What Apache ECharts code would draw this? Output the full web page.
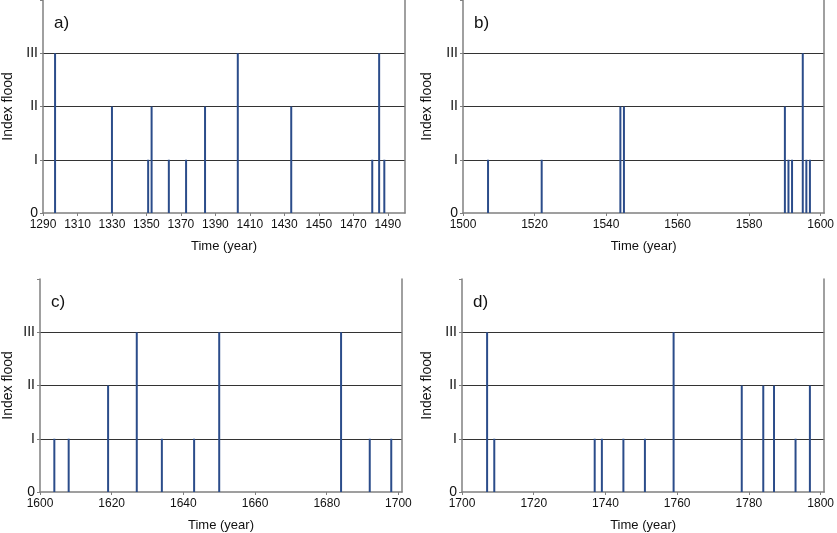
<!DOCTYPE html>
<html>
<head>
<meta charset="utf-8">
<title>Index flood</title>
<script src="https://cdn.jsdelivr.net/npm/echarts@6/dist/echarts.min.js"></script>
<style>
html, body { margin: 0; padding: 0; background: #fff; }
#chart { width: 837px; height: 533px; }
</style>
</head>
<body>
<div id="chart"></div>
<script>
// flood index labels (0..III), top tick left blank
var levelLabels = ['0', 'I', 'II', 'III', ''];

// a) 1290-1500
var yearsA = [1297, 1330, 1351, 1353, 1363, 1373, 1384, 1403, 1434, 1481, 1485, 1488];
var levelsA = [3, 2, 1, 2, 1, 1, 2, 3, 2, 1, 3, 1];
// b) 1500-1600
var yearsB = [1507, 1522, 1544, 1545, 1590, 1591, 1592, 1595, 1596, 1597];
var levelsB = [1, 1, 2, 2, 2, 1, 1, 3, 1, 1];
// c) 1600-1700
var yearsC = [1604, 1608, 1619, 1627, 1634, 1643, 1650, 1684, 1692, 1698];
var levelsC = [1, 1, 2, 3, 1, 1, 3, 3, 1, 1];
// d) 1700-1800
var yearsD = [1707, 1709, 1737, 1739, 1745, 1751, 1759, 1778, 1784, 1787, 1793, 1797];
var levelsD = [3, 1, 1, 1, 1, 1, 3, 2, 2, 2, 1, 2];

var panels = [
    { label: 'a)', years: yearsA, levels: levelsA, min: 1290, max: 1500, left: 43, top: 0, width: 362, nameX: 8 },
    { label: 'b)', years: yearsB, levels: levelsB, min: 1500, max: 1601, left: 463, top: 0, width: 362, nameX: 427 },
    { label: 'c)', years: yearsC, levels: levelsC, min: 1600, max: 1701, left: 40, top: 279, width: 362, nameX: 8 },
    { label: 'd)', years: yearsD, levels: levelsD, min: 1700, max: 1801, left: 462, top: 279, width: 363, nameX: 427 }
];

var axisGray = '#808080';
var textColor = '#111';
var fontName = 'Liberation Sans, Arial, sans-serif';

var option = {
    animation: false,
    backgroundColor: '#fff',
    title: [],
    grid: [],
    xAxis: [],
    yAxis: [],
    series: []
};

panels.forEach(function (p, i) {
    option.grid.push({ left: p.left, top: p.top, width: p.width, height: 213 });

    option.title.push({
        text: p.label,
        left: p.left + 6,
        top: p.top + 10,
        textStyle: { fontSize: 17, fontWeight: 'normal', color: textColor, fontFamily: fontName }
    });

    option.xAxis.push({
        type: 'value',
        gridIndex: i,
        min: p.min,
        max: p.max,
        interval: 20,
        name: 'Time (year)',
        nameLocation: 'middle',
        nameGap: 27,
        nameTextStyle: { fontSize: 13, color: textColor, fontFamily: fontName },
        axisLine: { lineStyle: { color: axisGray, width: 1.5 } },
        axisTick: { show: true, length: 3, lineStyle: { color: axisGray } },
        axisLabel: {
            fontSize: 12, color: textColor, margin: 6, fontFamily: fontName, showMaxLabel: false,
            formatter: function (v) { return String(v); }
        },
        splitLine: { show: false }
    });

    // left axis with flood levels
    option.yAxis.push({
        type: 'value',
        gridIndex: i,
        min: 0,
        max: 4,
        interval: 1,
        name: 'Index flood',
        nameLocation: 'middle',
        nameGap: p.left - p.nameX - 7,
        nameTextStyle: { fontSize: 14, color: textColor, fontFamily: fontName },
        axisLine: { show: true, lineStyle: { color: axisGray, width: 1.5 } },
        axisTick: { show: true, length: 3, lineStyle: { color: axisGray } },
        axisLabel: {
            fontSize: 14, color: textColor, margin: 5, fontFamily: fontName,
            formatter: function (v) { return levelLabels[v]; }
        },
        splitLine: {
            show: true,
            lineStyle: { color: ['transparent', '#333', '#333', '#333', 'transparent'], width: 1 }
        }
    });

    // right frame line
    option.yAxis.push({
        type: 'value',
        gridIndex: i,
        position: 'right',
        min: 0,
        max: 4,
        axisLine: { show: true, lineStyle: { color: axisGray, width: 1.5 } },
        axisTick: { show: false },
        axisLabel: { show: false },
        splitLine: { show: false }
    });

    var data = p.years.map(function (y, k) { return [y, p.levels[k]]; });
    option.series.push({
        type: 'bar',
        xAxisIndex: i,
        yAxisIndex: i * 2,
        barWidth: 2,
        itemStyle: { color: '#2b4c8a' },
        data: data
    });
});

var myChart = echarts.init(document.getElementById('chart'));
myChart.setOption(option);
</script>
</body>
</html>
